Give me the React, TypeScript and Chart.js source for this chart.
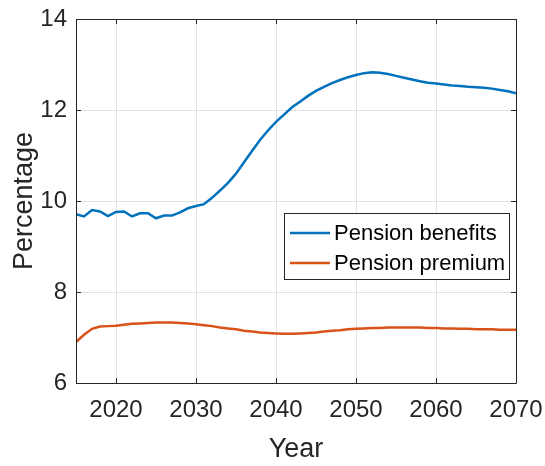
import React, { useEffect, useRef } from "react";
import { Chart, registerables } from "chart.js";

Chart.register(...registerables);

const years = [
  2015, 2016, 2017, 2018, 2019, 2020, 2021, 2022, 2023, 2024,
  2025, 2026, 2027, 2028, 2029, 2030, 2031, 2032, 2033, 2034,
  2035, 2036, 2037, 2038, 2039, 2040, 2041, 2042, 2043, 2044,
  2045, 2046, 2047, 2048, 2049, 2050, 2051, 2052, 2053, 2054,
  2055, 2056, 2057, 2058, 2059, 2060, 2061, 2062, 2063, 2064,
  2065, 2066, 2067, 2068, 2069, 2070,
];

const pensionBenefits = [
  9.71, 9.66, 9.8, 9.77, 9.67, 9.76, 9.77, 9.66, 9.73, 9.73,
  9.62, 9.68, 9.68, 9.75, 9.84, 9.89, 9.93, 10.07, 10.23, 10.4,
  10.6, 10.85, 11.1, 11.34, 11.55, 11.74, 11.9, 12.06, 12.18, 12.31,
  12.42, 12.51, 12.59, 12.66, 12.72, 12.77, 12.81, 12.83, 12.82, 12.79,
  12.75, 12.71, 12.67, 12.63, 12.6, 12.58, 12.56, 12.54, 12.53, 12.51,
  12.5, 12.49, 12.47, 12.44, 12.41, 12.37,
];

const pensionPremium = [
  6.9, 7.06, 7.19, 7.24, 7.25, 7.26, 7.28, 7.3, 7.31, 7.32,
  7.33, 7.33, 7.33, 7.32, 7.31, 7.29, 7.27, 7.25, 7.22, 7.2,
  7.18, 7.15, 7.13, 7.11, 7.1, 7.09, 7.08, 7.08, 7.09, 7.1,
  7.11, 7.13, 7.15, 7.16, 7.18, 7.19, 7.2, 7.21, 7.21, 7.22,
  7.22, 7.22, 7.22, 7.22, 7.21, 7.21, 7.2, 7.2, 7.19, 7.19,
  7.18, 7.18, 7.18, 7.17, 7.17, 7.17,
];

const seriesLabels = ["Pension benefits", "Pension premium"];
const seriesColors = ["#0072BD", "#D95319"];
const xTicks = [2020, 2030, 2040, 2050, 2060, 2070];
const yTicks = [6, 8, 10, 12, 14];
const xTitle = "Year";
const yTitle = "Percentage";

const FONT = "'Liberation Sans', Arial, Helvetica, sans-serif";
const AXIS_COLOR = "#262626";

const framePlugin = {
  id: "frameAndLegend",
  afterDatasetsDraw(chart: any) {
    const { ctx, chartArea, scales } = chart;
    const { left, right, top, bottom } = chartArea;
    ctx.save();
    ctx.strokeStyle = AXIS_COLOR;
    ctx.lineWidth = 1;
    ctx.beginPath();
    ctx.rect(Math.round(left) + 0.5, Math.round(top) + 0.5, Math.round(right - left), Math.round(bottom - top));
    ctx.stroke();
    const tl = 5;
    ctx.beginPath();
    for (const v of xTicks) {
      const x = Math.round(scales.x.getPixelForValue(v)) + 0.5;
      ctx.moveTo(x, bottom);
      ctx.lineTo(x, bottom - tl);
      ctx.moveTo(x, top);
      ctx.lineTo(x, top + tl);
    }
    for (const v of yTicks) {
      const y = Math.round(scales.y.getPixelForValue(v)) + 0.5;
      ctx.moveTo(left, y);
      ctx.lineTo(left + tl, y);
      ctx.moveTo(right, y);
      ctx.lineTo(right - tl, y);
    }
    ctx.stroke();

    const bx = 284.5, by = 213.5, bw = 225, bh = 66;
    ctx.fillStyle = "#ffffff";
    ctx.fillRect(bx, by, bw, bh);
    ctx.strokeStyle = AXIS_COLOR;
    ctx.strokeRect(bx, by, bw, bh);
    const rows = [233, 263];
    chart.data.datasets.forEach((ds: any, i: number) => {
      const y = rows[i];
      ctx.strokeStyle = ds.borderColor;
      ctx.lineWidth = 2.5;
      ctx.beginPath();
      ctx.moveTo(290, y);
      ctx.lineTo(330, y);
      ctx.stroke();
      ctx.fillStyle = "#000000";
      ctx.font = `22px ${FONT}`;
      ctx.textAlign = "left";
      ctx.textBaseline = "middle";
      ctx.fillText(ds.label, 334, y + 1);
    });
    ctx.restore();
  },
};

export default function App() {
  const canvasRef = useRef<HTMLCanvasElement | null>(null);

  useEffect(() => {
    if (!canvasRef.current) return;
    const chart = new Chart(canvasRef.current, {
      type: "line",
      data: {
        datasets: [pensionBenefits, pensionPremium].map((vals, i) => ({
          label: seriesLabels[i],
          data: years.map((yr, j) => ({ x: yr, y: vals[j] })),
          borderColor: seriesColors[i],
          backgroundColor: seriesColors[i],
          borderWidth: 2.5,
          pointRadius: 0,
          tension: 0,
          fill: false,
        })),
      },
      options: {
        responsive: false,
        animation: false,
        devicePixelRatio: 1,
        layout: { padding: { left: 0, top: 19, right: 29, bottom: 0 } },
        plugins: {
          legend: { display: false },
          tooltip: { enabled: false },
        },
        scales: {
          x: {
            type: "linear",
            min: 2015,
            max: 2070,
            afterBuildTicks: (scale: any) => {
              scale.ticks = xTicks.map((v) => ({ value: v }));
            },
            afterFit: (scale: any) => {
              scale.height = 83;
              scale.paddingLeft = 0;
              scale.paddingRight = 0;
            },
            grid: { color: "#e3e3e3", drawTicks: false, lineWidth: 1 },
            border: { display: false },
            ticks: {
              color: AXIS_COLOR,
              font: { family: FONT, size: 24 },
              padding: 13,
              maxRotation: 0,
              autoSkip: false,
              callback: (v: any) => String(v),
            },
            title: {
              display: true,
              text: xTitle,
              color: AXIS_COLOR,
              font: { family: FONT, size: 27 },
              padding: { top: 0, bottom: 0 },
            },
          },
          y: {
            min: 6,
            max: 14,
            afterBuildTicks: (scale: any) => {
              scale.ticks = yTicks.map((v) => ({ value: v }));
            },
            afterFit: (scale: any) => {
              scale.width = 76;
              scale.paddingTop = 0;
              scale.paddingBottom = 0;
            },
            grid: { color: "#e3e3e3", drawTicks: false, lineWidth: 1 },
            border: { display: false },
            ticks: {
              color: AXIS_COLOR,
              font: { family: FONT, size: 24 },
              padding: 9,
              callback: (v: any) => String(v),
            },
            title: {
              display: true,
              text: yTitle,
              color: AXIS_COLOR,
              font: { family: FONT, size: 27 },
              padding: { top: 8, bottom: 0 },
            },
          },
        },
      },
      plugins: [framePlugin],
    });
    return () => chart.destroy();
  }, []);

  return (
    <div style={{ position: "absolute", left: 0, top: 0, width: 545, height: 466, background: "#fff" }}>
      <canvas ref={canvasRef} width={545} height={466} style={{ width: 545, height: 466, display: "block" }} />
    </div>
  );
}
